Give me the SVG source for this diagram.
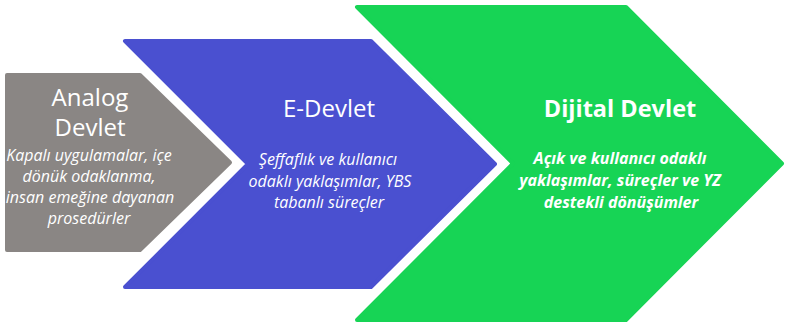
<svg xmlns="http://www.w3.org/2000/svg" width="785" height="328" viewBox="0 0 785 328">
  <style>
    .shape { stroke-width: 4; stroke-linejoin: round; }
    .gray { fill: #8a8684; stroke: #8a8684; }
    .blue { fill: #4a50d0; stroke: #4a50d0; }
    .green { fill: #17d455; stroke: #17d455; }
    text { font-family: "Open Sans", "Noto Sans", "DejaVu Sans", sans-serif; fill: #ffffff; text-anchor: middle; }
    .title { font-size: 24px; }
    .title-bold { font-size: 23.5px; font-weight: bold; }
    .body { font-size: 16px; font-style: italic; }
    .body-bold { font-size: 16px; font-style: italic; font-weight: bold; }
  </style>

  <!-- stage 1: pentagon -->
  <g id="analog-devlet">
    <path class="shape gray" d="M7 75 H140 L230 162.5 L140 250 H7 Z"/>
    <text class="title" x="90" y="106">Analog</text>
    <text class="title" x="90" y="136">Devlet</text>
    <text class="body" x="89" y="161">Kapalı uygulamalar, içe</text>
    <text class="body" x="89" y="182">dönük odaklanma,</text>
    <text class="body" x="90" y="203">insan emeğine dayanan</text>
    <text class="body" x="89" y="224">prosedürler</text>
  </g>

  <!-- stage 2: chevron -->
  <g id="e-devlet">
    <path class="shape blue" d="M125 41 H371 L495 164 L371 287 H125 L248 164 Z"/>
    <text class="title" x="329" y="117">E-Devlet</text>
    <text class="body" x="328" y="165">Şeffaflık ve kullanıcı</text>
    <text class="body" x="330" y="187">odaklı yaklaşımlar, YBS</text>
    <text class="body" x="329" y="208">tabanlı süreçler</text>
  </g>

  <!-- stage 3: chevron -->
  <g id="dijital-devlet">
    <path class="shape green" d="M357 7 H626 L782 163.5 L626 320 H357 L513 163.5 Z"/>
    <text class="title-bold" x="620" y="117">Dijital Devlet</text>
    <text class="body-bold" x="620" y="164">Açık ve kullanıcı odaklı</text>
    <text class="body-bold" x="620" y="186">yaklaşımlar, süreçler ve YZ</text>
    <text class="body-bold" x="621" y="208">destekli dönüşümler</text>
  </g>

  <g id="connectors"/>
</svg>
